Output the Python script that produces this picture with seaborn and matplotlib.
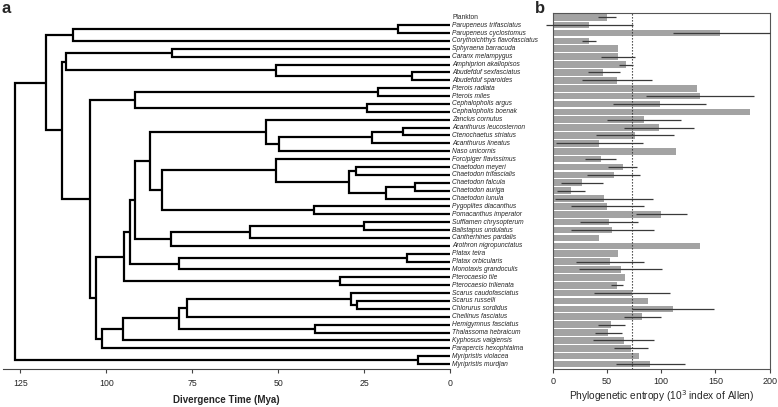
import matplotlib
matplotlib.use("Agg")
import numpy as np
import matplotlib.pyplot as plt
import seaborn as sns

# # # # # data # # # # #

SPECIES = ["Plankton", "Parupeneus trifasciatus", "Parupeneus cyclostomus",
	"Corythoichthys flavofasciatus", "Sphyraena barracuda", "Caranx melampygus",
	"Amphiprion akallopisos", "Abudefduf sexfasciatus", "Abudefduf sparoides",
	"Pterois radiata", "Pterois miles", "Cephalopholis argus", "Cephalopholis boenak",
	"Zanclus cornutus", "Acanthurus leucosternon", "Ctenochaetus striatus",
	"Acanthurus lineatus", "Naso unicornis", "Forcipiger flavissimus",
	"Chaetodon meyeri", "Chaetodon trifascialis", "Chaetodon falcula",
	"Chaetodon auriga", "Chaetodon lunula", "Pygoplites diacanthus",
	"Pomacanthus imperator", "Sufflamen chrysopterum", "Balistapus undulatus",
	"Cantherhines pardalis", "Arothron nigropunctatus", "Platax teira",
	"Platax orbicularis", "Monotaxis grandoculis", "Pterocaesio tile",
	"Pterocaesio trilienata", "Scarus caudofasciatus", "Scarus russelli",
	"Chlorurus sordidus", "Cheilinus fasciatus", "Hemigymnus fasciatus",
	"Thalassoma hebraicum", "Kyphosus vaigiensis", "Parapercis hexophtalma",
	"Myripristis violacea", "Myripristis murdjan"]

# observed phylogenetic entropy (bar length)
ENTROPY = [49.7, 33.7, 154.6, 33.7, 60.1, 60.1, 67.8, 46.8, 58.9,
	132.5, 135.6, 98.5, 182.2, 84.0, 97.5, 75.8, 42.6, 113.2, 44.5,
	64.4, 56.1, 26.7, 16.6, 47.2, 50.0, 99.7, 51.5, 54.6, 42.6, 135.9,
	60.4, 52.8, 62.6, 66.6, 59.2, 73.0, 88.0, 110.4, 82.5, 53.4, 51.2,
	65.3, 72.1, 79.4, 89.9]

# error bar limits (nan = no error bar)
ERR_LO = [42.0, -6.0, 110.5, 27.3, np.nan, 44.5, 61.0, 32.4, 26.7,
	np.nan, 85.9, 55.8, np.nan, 50.0, 65.3, 39.9, 2.8, np.nan, 29.8,
	51.2, 31.3, 7.4, 3.7, 2.1, 16.6, 76.7, 25.2, 16.6, np.nan, np.nan,
	np.nan, 21.5, 23.9, np.nan, 54.0, 38.3, np.nan, 72.7, 65.6, 41.4, 39.0,
	37.4, 56.4, np.nan, 58.3]
ERR_HI = [58.2, 73.8, 200.0, 39.6, np.nan, 75.8, 74.2, 61.6, 91.2,
	np.nan, 185.6, 141.1, np.nan, 118.1, 130.4, 111.7, 82.8, np.nan, 58.6,
	77.6, 80.7, 46.0, 29.4, 92.6, 83.7, 123.3, 78.2, 92.9, np.nan, np.nan,
	np.nan, 83.7, 100.9, np.nan, 64.4, 107.7, np.nan, 148.8, 99.7, 66.6, 63.8,
	93.3, 87.4, np.nan, 121.5]

REF_LINE = 73.3 # dotted reference line

# tree: (node age in Mya, left child, right child), leaves are row indices
TREE = (126.7,
	(117.5,
		(109.8, (15.0, 1, 2), 3),
		(112.9,
			(111.7, (80.8, 4, 5), (50.6, 6, (11.1, 7, 8))),
			(104.7,
				(91.7, (21.0, 9, 10), (24.2, 11, 12)),
				(103.0,
					(94.9,
						(93.2,
							(91.8,
								(87.2,
									(53.6, 13, (49.9, (22.6, (13.6, 14, 15), 16), 17)),
									(83.9,
										(50.6, 18, (29.3, (27.3, 19, 20), (18.7, (10.2, 21, 22), 23))),
										(39.7, 24, 25))),
								(81.3, (58.2, (24.9, 26, 27), 28), 29)),
							(79.0, (12.4, 30, 31), 32)),
						(32.0, 33, 34)),
					(101.3,
						(95.2,
							(78.8, (76.4, (28.8, 35, (27.0, 36, 37)), 38), (39.4, 39, 40)),
							41),
						42))))),
	(9.2, 43, 44))

TIME_TICKS = [125, 100, 75, 50, 25, 0]
ENTROPY_TICKS = [0, 50, 100, 150, 200]


# # # # # functions # # # # #

def draw_node(ax, node):

	# leaves sit at time 0 on their own row
	if isinstance(node, int):
		return 0.0, float(node)

	age, left, right = node
	xl, yl = draw_node(ax, left)
	xr, yr = draw_node(ax, right)

	# elbow: child -> node -> other child
	ax.plot([xl, age, age, xr], [yl, yl, yr, yr], color="black", lw=1.6,
		solid_joinstyle="miter", solid_capstyle="butt")

	return age, (yl + yr) / 2


# # # # # figure # # # # #

sns.set_theme(style="white")
plt.rcParams["font.family"] = ["Liberation Sans", "DejaVu Sans"]

fig = plt.figure(figsize=(7.78, 4.07), dpi=100)

W, H = 778.0, 407.0
ax_bottom = (H - 369) / H
ax_height = (369 - 12.7) / H
y_lim = (44.63, -0.58)

ax1 = fig.add_axes([3.3 / W, ax_bottom, (450 - 3.3) / W, ax_height])
ax2 = fig.add_axes([552.7 / W, ax_bottom, (770.3 - 552.7) / W, ax_height])


# # # TREE PANEL # # #

draw_node(ax1, TREE)

for i, name in enumerate(SPECIES):
	ax1.text(-0.7, i, name, fontsize=4.8, va="center", ha="left",
		style="normal" if i == 0 else "italic", clip_on=False)

ax1.set_xlim(130, 0)
ax1.set_ylim(*y_lim)
ax1.set_yticks([])
ax1.set_xticks(TIME_TICKS)
ax1.set_xticklabels([str(t) for t in TIME_TICKS])
for side in ["left", "top", "right"]:
	ax1.spines[side].set_visible(False)
ax1.spines["bottom"].set_color("#444444")
ax1.spines["bottom"].set_linewidth(0.8)
ax1.tick_params(axis="x", bottom=True, direction="out", length=3, width=0.8,
	color="#444444", labelsize=6.3, pad=4)
ax1.set_xlabel("Divergence Time (Mya)", fontsize=7, fontweight="bold", labelpad=5)


# # # ENTROPY PANEL # # #

rows = np.arange(len(SPECIES))

sns.barplot(x=ENTROPY, y=SPECIES, orient="h", color="#a3a3a3", saturation=1,
	width=0.84, linewidth=0, ax=ax2)

lo = np.asarray(ERR_LO)
hi = np.asarray(ERR_HI)
has_err = ~np.isnan(lo)
ax2.hlines(rows[has_err], lo[has_err], hi[has_err], color="#3a3a3a", lw=0.9,
	clip_on=False, zorder=3)

ax2.axvline(REF_LINE, color="#333333", lw=0.8, linestyle=(0, (1.2, 1.5)), zorder=4)

ax2.set_xlim(0, 200.5)
ax2.set_ylim(*y_lim)
ax2.set_yticks([])
ax2.set_ylabel("")
ax2.set_xticks(ENTROPY_TICKS)
ax2.set_xticklabels([str(t) for t in ENTROPY_TICKS])
for side in ax2.spines:
	ax2.spines[side].set_visible(True)
	ax2.spines[side].set_color("#555555")
	ax2.spines[side].set_linewidth(0.8)
ax2.tick_params(axis="x", bottom=True, direction="out", length=3, width=0.8,
	color="#444444", labelsize=6.5, pad=3)
ax2.set_xlabel("Phylogenetic entropy (10$^{3}$ index of Allen)", fontsize=7.3, labelpad=1)


# # # PANEL LETTERS # # #

fig.text(1 / W, 1 - 1 / H, "a", fontsize=12, fontweight="bold", va="top", ha="left")
fig.text(535 / W, 1 - 1 / H, "b", fontsize=12, fontweight="bold", va="top", ha="left")

fig.savefig("out.png", dpi=100)
